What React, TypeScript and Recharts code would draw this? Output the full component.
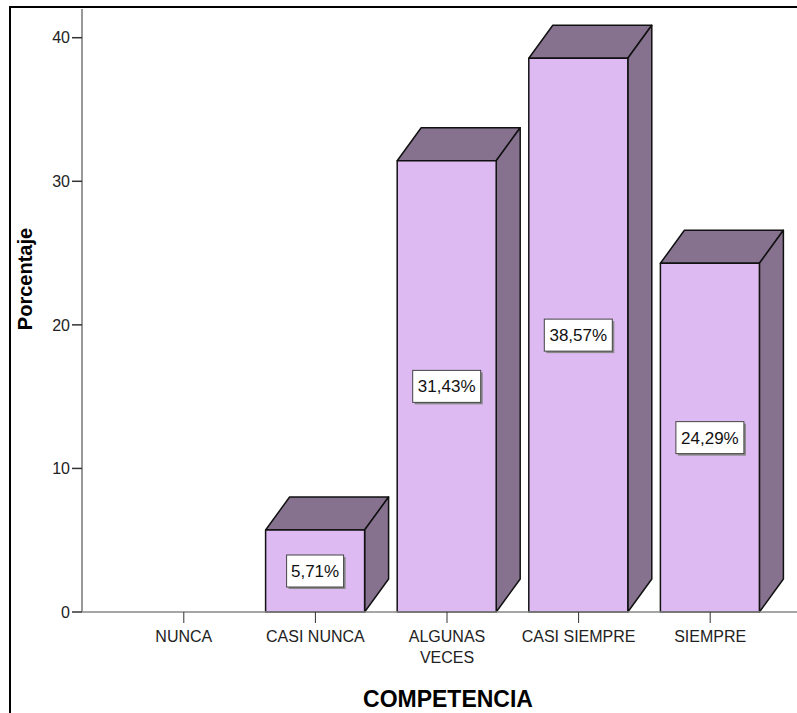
import React from 'react';
import { BarChart, Bar, XAxis, YAxis, LabelList } from 'recharts';

const categories = ['NUNCA', 'CASI NUNCA', 'ALGUNAS VECES', 'CASI SIEMPRE', 'SIEMPRE'];
const percentages = [0, 5.71, 31.43, 38.57, 24.29];
const yTicks = [0, 10, 20, 30, 40];
// tick labels that SPSS wraps onto two lines
const tickLines: Record<string, string[]> = { 'ALGUNAS VECES': ['ALGUNAS', 'VECES'] };

const data = categories.map((name, i) => ({ name, value: percentages[i] }));

const FRONT = '#DEBAF2';
const DARK = '#86718F';
const DEPTH_X = 24;
const DEPTH_Y = 33;
const FONT = '"Liberation Sans", Arial, sans-serif';

// front face + top + right side, like the SPSS 3D bars
const Bar3D = (props: any) => {
  const { x, y, width, height } = props;
  if (!height || height <= 0) return null;
  const r = x + width;
  const b = y + height;
  return (
    <g stroke="#111" strokeWidth={1.5} strokeLinejoin="round">
      <polygon points={`${x},${y} ${x + DEPTH_X},${y - DEPTH_Y} ${r + DEPTH_X},${y - DEPTH_Y} ${r},${y}`} fill={DARK} />
      <polygon points={`${r},${y} ${r + DEPTH_X},${y - DEPTH_Y} ${r + DEPTH_X},${b - DEPTH_Y} ${r},${b}`} fill={DARK} />
      <rect x={x} y={y} width={width} height={height} fill={FRONT} />
    </g>
  );
};

const ValueBox = (props: any) => {
  const { x, y, width, height, value } = props;
  if (!value) return null;
  const text = Number(value).toFixed(2).replace('.', ',') + '%';
  const w = text.length * 11 + 2;
  const h = 32;
  const cx = x + width / 2;
  const cy = y + height / 2;
  return (
    <g>
      <rect x={cx - w / 2 + 2} y={cy - h / 2 + 2} width={w} height={h} fill="#888" />
      <rect x={cx - w / 2} y={cy - h / 2} width={w} height={h} fill="#fff" stroke="#444" strokeWidth={1} />
      <text x={cx} y={cy + 6} textAnchor="middle" fontSize={17} fontFamily={FONT} fill="#111">
        {text}
      </text>
    </g>
  );
};

const CategoryTick = (props: any) => {
  const { x, y, payload } = props;
  const lines = tickLines[payload.value] ?? [payload.value];
  return (
    <text x={x} y={y} textAnchor="middle" fontSize={16} fontFamily={FONT} fill="#222">
      {lines.map((l: string, i: number) => (
        <tspan key={i} x={x} dy={i === 0 ? 17 : 21}>
          {l}
        </tspan>
      ))}
    </text>
  );
};

const XTitle = () => (
  <text x={448} y={707} textAnchor="middle" fontSize={23} fontWeight="bold" fontFamily={FONT} fill="#000">
    COMPETENCIA
  </text>
);

const YTitle = () => (
  <text
    x={32}
    y={279}
    transform="rotate(-90, 32, 279)"
    textAnchor="middle"
    fontSize={20}
    fontWeight="bold"
    fontFamily={FONT}
    fill="#000"
  >
    Porcentaje
  </text>
);

export default function App() {
  return (
    <div style={{ position: 'absolute', left: 0, top: 0, width: 797, height: 713, background: '#fff', overflow: 'hidden' }}>
      {/* outer frame, only top and left edges are visible */}
      <div
        style={{
          position: 'absolute',
          left: 9,
          top: 6,
          width: 800,
          height: 720,
          borderLeft: '2px solid #000',
          borderTop: '2px solid #000',
        }}
      />
      <BarChart width={797} height={713} data={data} margin={{ top: 9, right: 0, bottom: 0, left: 0 }}>
        <XAxis
          dataKey="name"
          height={101}
          padding={{ left: 36, right: 21 }}
          tickSize={11}
          tickMargin={2}
          tick={<CategoryTick />}
          tickLine={{ stroke: '#333' }}
          axisLine={{ stroke: '#888', strokeWidth: 1.5 }}
          label={<XTitle />}
        />
        <YAxis
          width={82}
          domain={[0, 42]}
          ticks={yTicks}
          tickSize={10}
          tickMargin={2}
          tick={{ fontSize: 16, fill: '#222', fontFamily: FONT }}
          tickLine={{ stroke: '#333', strokeWidth: 1.5 }}
          axisLine={{ stroke: '#999', strokeWidth: 2 }}
          label={<YTitle />}
        />
        <Bar dataKey="value" barSize={99} shape={<Bar3D />} isAnimationActive={false}>
          <LabelList dataKey="value" content={(p: any) => <ValueBox {...p} />} />
        </Bar>
      </BarChart>
    </div>
  );
}
